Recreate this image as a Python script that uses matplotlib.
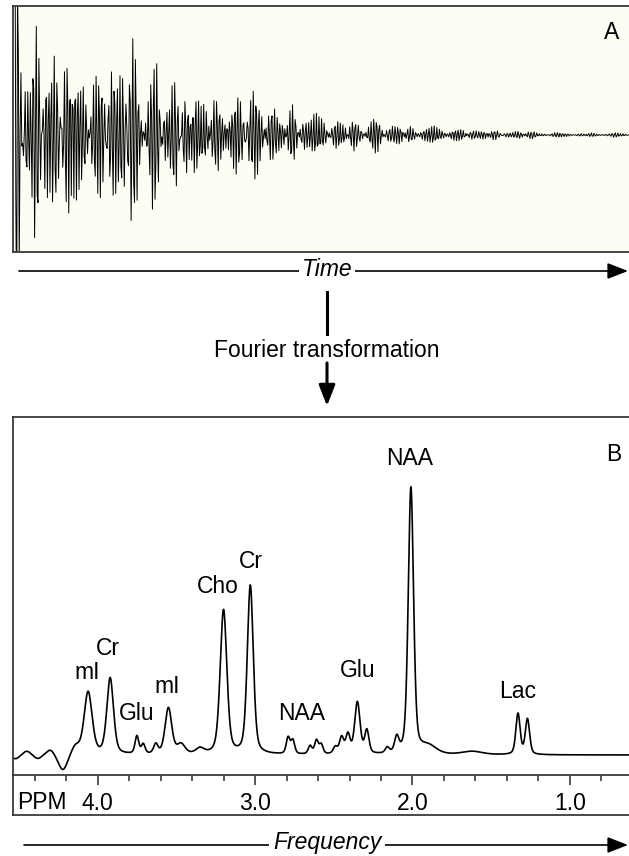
import numpy as np
import matplotlib
matplotlib.use("Agg")
import matplotlib.pyplot as plt
from matplotlib.patches import FancyArrowPatch

plt.rcParams['font.family'] = ['Liberation Sans', 'DejaVu Sans']

W, H = 629, 856

# ---- Spectrum peak table (ppm, height in a.u. with NAA ~100, FWHM in ppm) ----
peak_ppm = [4.52, 4.45, 4.38, 4.30, 4.22, 4.14,
            4.06, 3.92, 3.75, 3.71, 3.63, 3.55, 3.47, 3.35,
            3.20, 3.03,
            2.79, 2.76, 2.65, 2.61, 2.58, 2.49, 2.45, 2.41,
            2.35, 2.29, 2.16, 2.10, 2.01, 1.90, 1.62, 1.33, 1.27]
peak_height = [-1.5, 1.5, -1.5, 2.0, -6.0, 3.0,
               23.0, 28.0, 6.5, 3.5, 3.5, 17.0, 3.5, 2.0,
               53.0, 62.0,
               6.0, 5.0, 3.0, 5.0, 3.5, 2.5, 6.0, 7.0,
               19.0, 8.5, 2.0, 5.5, 98.0, 3.0, 1.2, 15.0, 13.0]
peak_fwhm = [0.06, 0.06, 0.06, 0.06, 0.07, 0.06,
             0.06, 0.05, 0.028, 0.028, 0.032, 0.05, 0.06, 0.06,
             0.05, 0.045,
             0.028, 0.028, 0.028, 0.028, 0.028, 0.032, 0.032, 0.032,
             0.04, 0.032, 0.03, 0.032, 0.04, 0.12, 0.15, 0.032, 0.032]

label_text = ['mI', 'Cr', 'Glu', 'mI', 'Cho', 'Cr', 'NAA', 'Glu', 'NAA', 'Lac']
label_ppm = [4.067, 3.933, 3.75, 3.56, 3.235, 3.025, 2.707, 2.35, 2.016, 1.33]
label_base = [28.0, 36.8, 12.9, 22.8, 59.6, 68.8, 12.9, 28.7, 106.6, 21.0]

tick_major = [4.0, 3.0, 2.0, 1.0]
tick_labels = ['4.0', '3.0', '2.0', '1.0']
tick_minor = [4.4, 4.2, 3.8, 3.6, 3.4, 3.2, 2.8, 2.6, 2.4, 2.2,
              1.8, 1.6, 1.4, 1.2, 0.8]

PPM_LEFT, PPM_RIGHT = 4.537, 0.625
LORENTZ_FRAC = 0.4
B0_MHZ = 128.0
CARRIER_PPM = 9.8
ACQ_TIME = 0.235
FS = 16.5

# ---- build spectrum and FID from the peak table ----
ppm = np.linspace(PPM_LEFT, PPM_RIGHT, 3000)
spec = np.zeros_like(ppm)
t = np.linspace(0, ACQ_TIME, 720)
fid = np.zeros_like(t)
for p0, h, w in zip(peak_ppm, peak_height, peak_fwhm):
    d = ppm - p0
    lor = 1.0 / (1.0 + (d / (w / 2)) ** 2)
    gau = np.exp(-4 * np.log(2) * (d / w) ** 2)
    spec += h * (LORENTZ_FRAC * lor + (1 - LORENTZ_FRAC) * gau)
    f = (p0 - CARRIER_PPM) * B0_MHZ
    g = w * B0_MHZ
    env = (h * LORENTZ_FRAC * np.pi * g / 2 * np.exp(-np.pi * g * t)
           + h * (1 - LORENTZ_FRAC) * g * np.sqrt(np.pi / (4 * np.log(2)))
           * np.exp(-(np.pi * g * t) ** 2 / (4 * np.log(2))))
    fid += env * np.cos(2 * np.pi * f * t)

fig = plt.figure(figsize=(W / 100, H / 100), dpi=100)
fig.patch.set_facecolor('white')

def fx(px):
    return px / W

def fy(py):
    return 1 - py / H

edge = '#3a3a3a'

# ---- Panel A ----
axA = fig.add_axes([fx(12.5), fy(252), 1.0 - fx(12.5), (252 - 6) / H])
axA.set_facecolor('#fdfdf4')
axA.plot(t, fid, color='black', lw=0.7)
axA.set_xlim(-ACQ_TIME * 0.004, ACQ_TIME)
amp = np.percentile(np.abs(fid[2:150]), 97)
axA.set_ylim(-amp * 117 / 100, amp * 129 / 100)
axA.set_xticks([]); axA.set_yticks([])
for s in axA.spines.values():
    s.set_color(edge); s.set_linewidth(1.3)
axA.spines['right'].set_visible(False)

# ---- Panel B ----
axB = fig.add_axes([fx(13), fy(775), 1.0 - fx(13), (775 - 417) / H])
axB.plot(ppm, spec, color='black', lw=1.2)
axB.set_xlim(PPM_LEFT, PPM_RIGHT)
units_per_px = 1 / 2.72
axB.set_ylim(-20 * units_per_px, 338 * units_per_px)
axB.set_yticks([])
axB.set_xticks(tick_major)
axB.set_xticklabels(tick_labels, fontsize=FS)
axB.set_xticks(tick_minor, minor=True)
axB.tick_params(axis='x', which='major', direction='out', length=7, width=1.2,
                color=edge, pad=5.0)
axB.tick_params(axis='x', which='minor', direction='out', length=4, width=1.2,
                color=edge)
for s in axB.spines.values():
    s.set_color(edge); s.set_linewidth(1.3)
axB.spines['right'].set_visible(False)
for txt, xp, yb in zip(label_text, label_ppm, label_base):
    axB.text(xp, yb, txt, ha='center', va='baseline', fontsize=FS)

# strip frame under panel B
axS = fig.add_axes([fx(13), fy(815), 1.0 - fx(13), (815 - 775) / H])
axS.set_facecolor('none')
axS.set_xticks([]); axS.set_yticks([])
for k in ['top', 'right']:
    axS.spines[k].set_visible(False)
for k in ['left', 'bottom']:
    axS.spines[k].set_color(edge); axS.spines[k].set_linewidth(1.3)

# ---- overlay for arrows and captions ----
ov = fig.add_axes([0, 0, 1, 1], zorder=5)
ov.set_xlim(0, W); ov.set_ylim(H, 0); ov.axis('off')
ov.patch.set_alpha(0)

ov.text(17, 809, 'PPM', fontsize=FS, ha='left', va='baseline')
ov.text(611.5, 39, 'A', fontsize=FS, ha='center', va='baseline')
ov.text(614, 461, 'B', fontsize=FS, ha='center', va='baseline')

def harrow(y, x0, x1):
    ov.add_patch(FancyArrowPatch((x0, y), (x1, y), arrowstyle='-|>,head_length=0.9,head_width=0.35',
                                 mutation_scale=14, color='black', lw=1.2, shrinkA=0, shrinkB=0))

harrow(271, 19, 628)
ov.text(327, 270, 'Time', fontsize=FS, style='italic', ha='center', va='center',
        bbox=dict(facecolor='white', edgecolor='none', pad=2))
harrow(845, 24, 628)
ov.text(327, 843, 'Frequency', fontsize=FS, style='italic', ha='center', va='center',
        bbox=dict(facecolor='white', edgecolor='none', pad=3))

ov.plot([327, 327], [292, 334], color='black', lw=2.2)
ov.text(327, 356.7, 'Fourier transformation', fontsize=FS, ha='center', va='baseline')
ov.add_patch(FancyArrowPatch((327, 363), (327, 406), arrowstyle='-|>,head_length=0.9,head_width=0.35',
                             mutation_scale=14, color='black', lw=2.2, shrinkA=0, shrinkB=0))

fig.savefig('out.png', dpi=100)
